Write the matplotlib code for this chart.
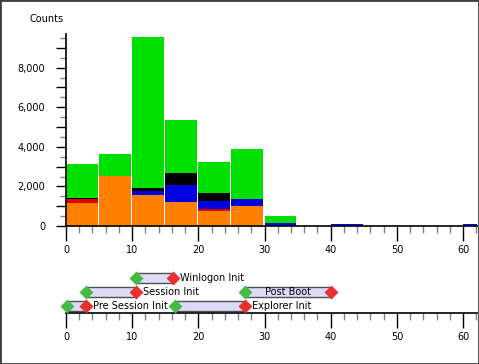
import numpy as np
import matplotlib
matplotlib.use('Agg')
import matplotlib.pyplot as plt
from matplotlib.patches import Rectangle
from matplotlib.ticker import MultipleLocator, FuncFormatter

# histogram bins (seconds), 5 s wide
bin_starts = [0, 5, 10, 15, 20, 25, 30, 35, 40, 45, 50, 55, 60]
orange = [1180, 2540, 1570, 1210, 780, 1010, 0, 0, 0, 0, 0, 0, 0]
red    = [160, 0, 0, 0, 60, 0, 0, 0, 0, 0, 0, 0, 0]
blue   = [0, 0, 200, 860, 420, 330, 150, 0, 80, 0, 0, 0, 80]
black  = [50, 0, 170, 600, 400, 40, 0, 0, 0, 0, 0, 0, 0]
green  = [1740, 1090, 7620, 2680, 1570, 2510, 350, 0, 0, 0, 0, 0, 0]

# boot phases: name, start, end, row (1 = bottom)
phases = ['Winlogon Init', 'Session Init', 'Post Boot', 'Pre Session Init', 'Explorer Init']
ph_start = [10.6, 3.0, 27.0, 0.2, 16.5]
ph_end = [16.1, 10.6, 40.0, 3.0, 27.0]
ph_row = [3, 2, 2, 1, 1]

W, H = 479, 364
fig = plt.figure(figsize=(W / 100, H / 100), dpi=100)
plt.rcParams['font.family'] = 'DejaVu Sans'
FS = 7

def frac(x0, y0, x1, y1):
    return [x0 / W, 1 - y1 / H, (x1 - x0) / W, (y1 - y0) / H]

def style_xaxis(ax):
    ax.set_xlim(0, 62.1)
    ax.xaxis.set_major_locator(MultipleLocator(10))
    ax.xaxis.set_minor_locator(MultipleLocator(2))
    ax.tick_params(axis='x', which='major', length=11, width=1, color='black',
                   labelsize=FS, pad=3)
    ax.tick_params(axis='x', which='minor', length=5, width=1, color='#808080')
    ax.spines['top'].set_visible(False)
    ax.spines['right'].set_visible(False)
    ax.spines['bottom'].set_linewidth(1.2)

# --- histogram ---
ax = fig.add_axes(frac(66, 34, 477, 226))
bottom = np.zeros(len(bin_starts))
for vals, col in [(orange, '#ff8000'), (red, '#e00000'), (blue, '#0000e0'),
                  (black, '#000000'), (green, '#00e000')]:
    ax.bar(bin_starts, vals, width=4.8, bottom=bottom, align='edge', color=col,
           linewidth=0)
    bottom += np.array(vals)
ax.set_ylim(0, 9700)
style_xaxis(ax)
ax.yaxis.set_major_locator(MultipleLocator(1000))
ax.yaxis.set_minor_locator(MultipleLocator(500))
ax.yaxis.set_major_formatter(FuncFormatter(
    lambda v, p: f'{int(v):,}' if int(v) % 2000 == 0 else ''))
ax.tick_params(axis='y', which='major', length=7, width=1, color='black',
               labelsize=FS, pad=8)
ax.tick_params(axis='y', which='minor', length=4, width=1, color='#808080')
ax.spines['left'].set_linewidth(1.2)
fig.text(30 / W, 1 - 19 / H, 'Counts', fontsize=FS, va='center', ha='left')

# --- phases ---
ax2 = fig.add_axes(frac(66, 268, 477, 313))
style_xaxis(ax2)
ax2.set_ylim(0.507, 3.68)
ax2.spines['left'].set_visible(False)
ax2.set_yticks([])
for name, s, e, r in zip(phases, ph_start, ph_end, ph_row):
    ax2.barh(r, e - s, left=s, height=0.7, color='#dcdcf8', edgecolor='#505050',
             linewidth=1, zorder=2)
    ax2.plot([s], [r], marker='D', ms=7.5, color='#44bb44', mec='none', zorder=3,
             clip_on=False)
    ax2.plot([e], [r], marker='D', ms=7.5, color='#e83030', mec='none', zorder=3,
             clip_on=False)
    if name == 'Post Boot':
        ax2.text((s + e) / 2, r, name, fontsize=FS, ha='center', va='center', zorder=4)
    else:
        ax2.annotate(name, (e, r), xytext=(5, 0), textcoords='offset points',
                     fontsize=FS, ha='left', va='center', zorder=4)

fig.patches.append(Rectangle((0, 0), 1, 1, transform=fig.transFigure, fill=False,
                             edgecolor='#404040', linewidth=2))

fig.savefig('out.png', dpi=100)
